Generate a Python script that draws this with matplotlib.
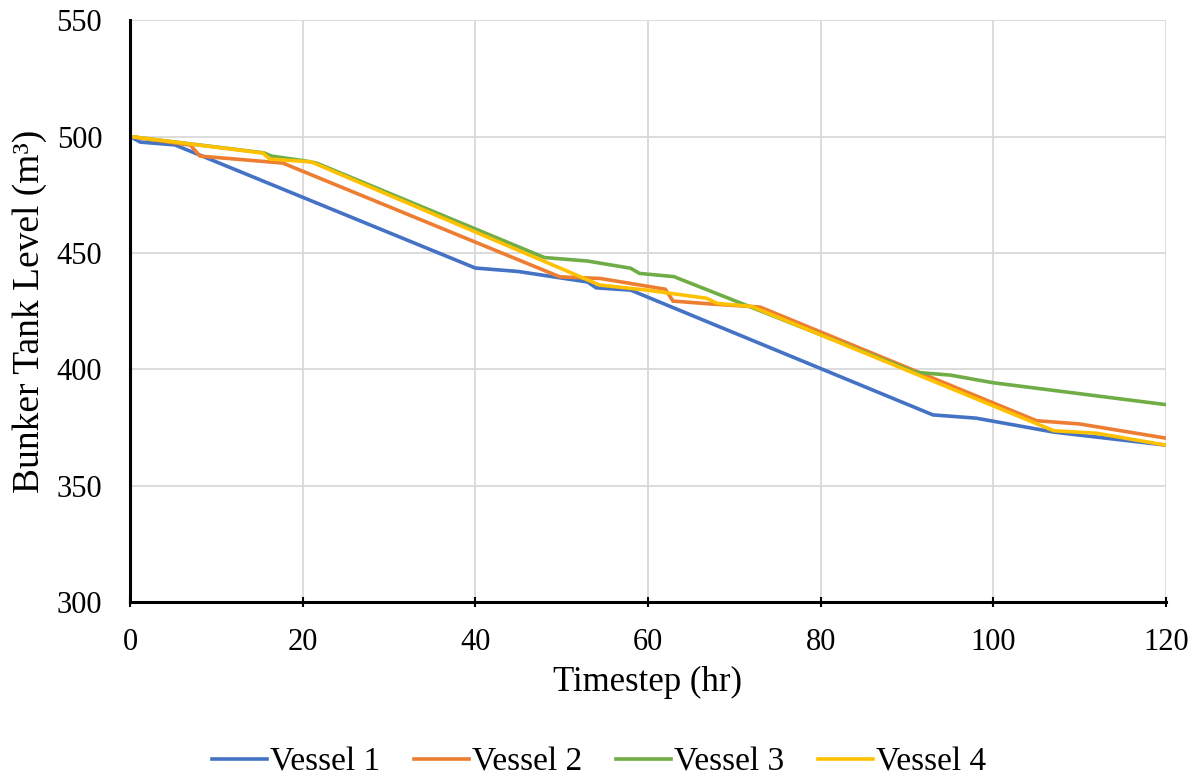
import matplotlib
matplotlib.use("Agg")
import matplotlib.pyplot as plt

plt.rcParams['font.family'] = ['Liberation Serif', 'DejaVu Serif']

v1_x = [0, 1.2, 5.2, 40, 45, 53, 54, 58, 93, 98, 107, 120]
v1_y = [500, 497.6, 496.4, 443.5, 442, 437.5, 435, 434, 380.4, 379, 373, 367.4]

v2_x = [0, 7, 8.1, 17.7, 49.8, 54.5, 62, 62.9, 67.5, 73, 105, 110, 120]
v2_y = [500, 496.3, 491.6, 488.6, 439.7, 439, 434.4, 429.3, 428, 426.7, 377.9, 376.5, 370.4]

v3_x = [0, 15.5, 16.4, 20.5, 21.6, 48, 53, 58, 59, 63, 91, 95, 100, 120]
v3_y = [500, 493, 491.6, 489.4, 488.6, 448, 446.5, 443.4, 441.2, 439.8, 398.7, 397.5, 394.2, 384.8]

v4_x = [0, 15.4, 16.2, 21, 54.4, 59.9, 66.8, 68, 72, 107, 112, 120]
v4_y = [500, 492.9, 490.3, 489.1, 436.2, 434, 430.5, 428.3, 427, 373.6, 372.5, 367.4]

series = [("Vessel 1", v1_x, v1_y, "#4472C4"),
          ("Vessel 2", v2_x, v2_y, "#ED7D31"),
          ("Vessel 3", v3_x, v3_y, "#70AD47"),
          ("Vessel 4", v4_x, v4_y, "#FFC000")]

x_ticks = [0, 20, 40, 60, 80, 100, 120]
y_ticks = [300, 350, 400, 450, 500, 550]

fig = plt.figure(figsize=(11.98, 7.75), dpi=100)
ax = fig.add_axes([0.1085, 0.2232, 0.9733 - 0.1085, 0.974 - 0.2232])

for name, xs, ys, c in series:
    ax.plot(xs, ys, color=c, lw=2.6, label=name, solid_joinstyle='miter')

ax.set_xlim(0, 120)
ax.set_ylim(300, 550)
ax.set_xticks(x_ticks)
ax.set_yticks(y_ticks)
ax.grid(True, color="#d9d9d9", lw=1.3)
ax.set_axisbelow(True)
for s in ["top", "right"]:
    ax.spines[s].set_visible(False)
for s in ["left", "bottom"]:
    ax.spines[s].set_linewidth(2.2)
    ax.spines[s].set_color("black")
ax.tick_params(axis='x', direction='inout', length=7, width=1.5, labelsize=22, pad=15)
ax.tick_params(axis='y', length=0, labelsize=22, pad=20)

ax.set_xlabel("Timestep (hr)", fontsize=25, labelpad=7)
ax.set_ylabel("Bunker Tank Level (m³)", fontsize=27, labelpad=7)

fig.legend(loc='center', bbox_to_anchor=(0.5, 1 - 762 / 775), ncol=4, frameon=False,
           fontsize=24, handlelength=1.65, handletextpad=0.1, columnspacing=1.0)

fig.savefig("out.png", dpi=100)
